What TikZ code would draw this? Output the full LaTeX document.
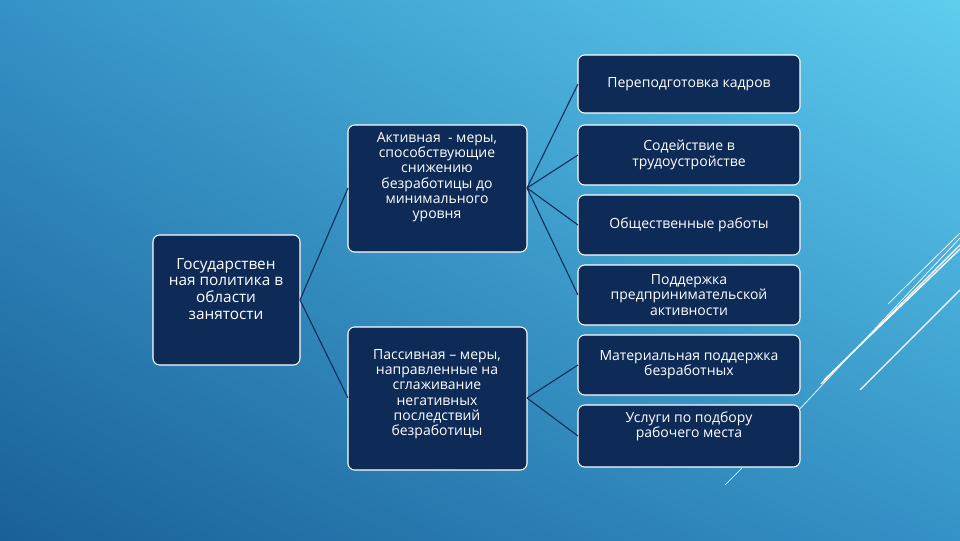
\documentclass[tikz,border=0pt]{standalone}
\usepackage{fontspec}
\setmainfont{Open Sans}
\usetikzlibrary{shadings}
\begin{document}
\begin{tikzpicture}[x=0.75pt,y=-0.75pt,
  box/.style={draw=white,line width=0.8pt,fill=navy,rounded corners=5pt},
  txt/.style={text=white,align=center,font=\fontsize{10.5}{11.5}\selectfont,inner sep=0pt},
  conn/.style={draw=navy,line width=0.8pt},
  deco/.style={draw=white,line width=1pt}]
\definecolor{navy}{HTML}{0E2B58}
\definecolor{bgA}{HTML}{5ECDEE}
\definecolor{bgB}{HTML}{3592C6}
\definecolor{bgC}{HTML}{1A6098}
\useasboundingbox (0,0) rectangle (960,540);
\shade[upper right=bgA,upper left=bgB,lower right=bgB,lower left=bgC] (0,0) rectangle (960,540);
% decorative lines
\draw[deco] (821,384) -- (960,245);
\draw[deco] (824,380) -- (960,249);
\draw[deco,line width=0.5pt] (796,413) -- (960,238);
\draw[deco,line width=0.5pt] (888,304) -- (960,233);
\draw[deco] (860,390) -- (960,290);
\draw[deco,line width=0.5pt] (725,485) -- (742,468);
% boxes
\path[box] (153,235) rectangle (300,365); \coordinate (root) at (300,300);
\path[box] (348,125) rectangle (527,252); \coordinate (actL) at (348,188); \coordinate (actR) at (527,188);
\path[box] (348,327) rectangle (527,470); \coordinate (pasL) at (348,398); \coordinate (pasR) at (527,398);
\foreach \n/\a/\b in {r1/55/113,r2/125/185,r3/195/255,r4/265/325,r5/335/395,r6/405/467}{
  \path[box] (578,\a) rectangle (800,\b);
  \coordinate (\n) at (578,{(\a+\b)/2});
}
% connectors
\draw[conn] (root) -- (actL);
\draw[conn] (root) -- (pasL);
\foreach \n in {r1,r2,r3,r4} \draw[conn] (actR) -- (\n);
\foreach \n in {r5,r6} \draw[conn] (pasR) -- (\n);
% texts
\node[txt,anchor=north,font=\fontsize{11.5}{12.5}\selectfont] (t0) at (226,258) {Государствен\\ная политика в\\области\\занятости};
\node[txt,anchor=north] (t1) at (437,132) {Активная\ \ - меры,\\способствующие\\снижению\\безработицы до\\минимального\\уровня};
\node[txt,anchor=north] (t2) at (437,349) {Пассивная – меры,\\направленные на\\сглаживание\\негативных\\последствий\\безработицы};
\node[txt] (u1) at (689,84) {Переподготовка кадров};
\node[txt] (u2) at (689,155) {Содействие в\\трудоустройстве};
\node[txt] (u3) at (689,225) {Общественные работы};
\node[txt] (u4) at (689,295) {Поддержка\\предпринимательской\\активности};
\node[txt] (u5) at (689,365) {Материальная поддержка\\безработных};
\node[txt] (u6) at (689,426) {Услуги по подбору\\рабочего места};
\end{tikzpicture}
\end{document}
